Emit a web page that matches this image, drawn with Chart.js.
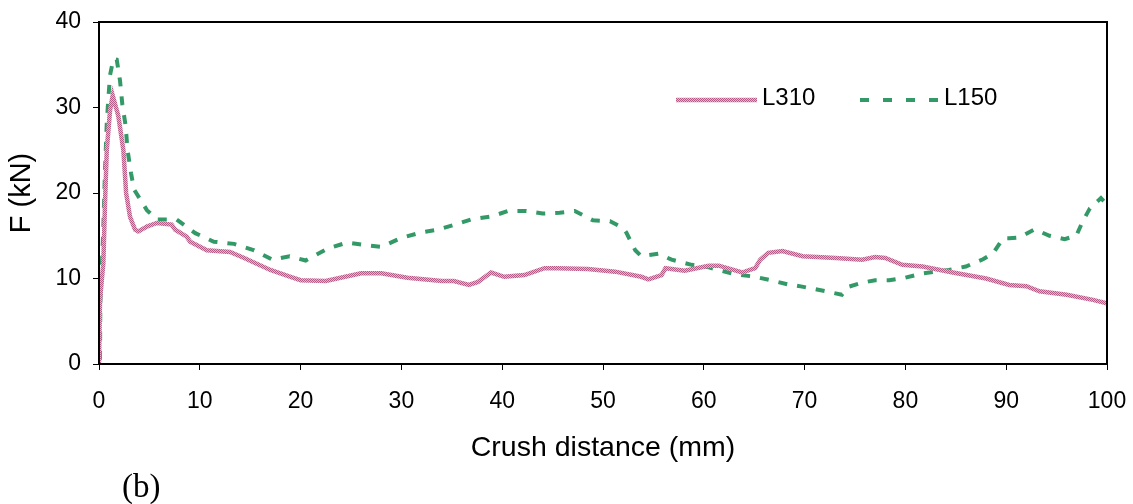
<!DOCTYPE html>
<html>
<head>
<meta charset="utf-8">
<script src="https://cdn.jsdelivr.net/npm/chart.js@4/dist/chart.umd.min.js"></script>
<style>
  html, body { margin: 0; padding: 0; background: #fff; }
  #wrap { width: 1133px; height: 504px; position: relative; }
</style>
</head>
<body>
<div id="wrap"><canvas id="c" width="1133" height="504"></canvas></div>
<script>
// Crush distance (mm) and force (kN) for each specimen
const l310X = [0, 0.1, 0.43, 0.6, 0.77, 1.1, 1.36, 1.92, 2.42, 2.69, 3.08, 3.58, 3.9, 4.8, 5.74, 7.2, 7.56, 8.7, 9.05, 10.7, 13.0, 14.4, 17.0, 18.0, 19.0, 20, 22.5, 26, 28, 30.6, 34, 35.2, 36.7, 37.6, 38.9, 40.2, 42.2, 44.2, 45.5, 48.5, 51.2, 53.8, 54.5, 55.8, 56.2, 58.1, 60.5, 61.5, 63.8, 65.1, 65.6, 66.4, 67.8, 69.8, 73.1, 75.7, 77.0, 78.0, 79.7, 81.7, 84.7, 88.0, 90.3, 92.0, 93.3, 96.0, 98.6, 100];
const l310F = [0, 7.5, 11.8, 18.9, 25, 29.7, 31.4, 29, 25, 20, 17.2, 15.7, 15.5, 16.1, 16.5, 16.3, 15.7, 14.9, 14.3, 13.3, 13.1, 12.4, 11.0, 10.6, 10.2, 9.8, 9.7, 10.6, 10.6, 10.1, 9.7, 9.7, 9.25, 9.6, 10.7, 10.2, 10.4, 11.2, 11.2, 11.1, 10.8, 10.2, 9.9, 10.4, 11.2, 10.9, 11.5, 11.5, 10.7, 11.2, 12.2, 13.0, 13.2, 12.6, 12.4, 12.2, 12.5, 12.4, 11.6, 11.4, 10.7, 10.0, 9.25, 9.1, 8.5, 8.1, 7.5, 7.1];

const l150X = [0.1, 0.13, 0.4, 0.6, 0.77, 0.93, 1.1, 1.43, 1.76, 2.09, 2.32, 2.65, 2.82, 3.18, 3.48, 4.75, 5.74, 7.7, 9.55, 11.4, 13.4, 15.4, 17.2, 18.9, 20.5, 22.7, 24.6, 26.5, 28.0, 30, 32, 33.6, 35.3, 36.9, 38.9, 40.6, 42.4, 44.0, 45.7, 47.2, 49.0, 50.7, 52.0, 52.3, 53.2, 53.8, 55.5, 56.8, 58.8, 60.5, 63.1, 65.1, 66.8, 68.4, 69.75, 72.1, 73.7, 74.4, 75.7, 77.0, 78.4, 80.0, 81.7, 84.3, 86.0, 87.7, 88.7, 89.7, 90.3, 91.3, 92.8, 94.3, 95.8, 96.95, 97.6, 98.3, 99.4, 99.9];
const l150F = [0.5, 7.1, 14.9, 22.7, 28.2, 31.1, 33.8, 35.7, 35.6, 33.1, 30.3, 27.8, 25.1, 22.3, 20.4, 18.0, 16.9, 16.9, 15.3, 14.3, 14.05, 13.3, 12.2, 12.6, 12.1, 13.5, 14.2, 13.9, 13.7, 14.75, 15.4, 15.7, 16.3, 16.9, 17.25, 17.9, 17.9, 17.6, 17.7, 17.9, 16.8, 16.7, 15.9, 15.4, 13.3, 12.6, 12.9, 12.2, 11.6, 11.3, 10.5, 10.2, 9.75, 9.3, 9.05, 8.5, 8.1, 9.05, 9.5, 9.8, 9.8, 10.1, 10.6, 11.0, 11.4, 12.25, 12.95, 14.7, 14.7, 14.8, 15.75, 15.0, 14.6, 15.0, 16.7, 18.2, 19.4, 18.8];

const xTicks = [0, 10, 20, 30, 40, 50, 60, 70, 80, 90, 100];
const yTicks = [0, 10, 20, 30, 40];
const seriesNames = ['L310', 'L150'];
const xTitle = 'Crush distance (mm)';
const yTitle = 'F (kN)';
const panelTag = '(b)';

// Dotted pink texture for the L310 curve
function pinkPattern() {
  const pc = document.createElement('canvas');
  pc.width = 2; pc.height = 2;
  const p = pc.getContext('2d');
  p.fillStyle = '#e6b3cb'; p.fillRect(0, 0, 2, 2);
  p.fillStyle = '#b45c88'; p.fillRect(0, 0, 1, 1); p.fillRect(1, 1, 1, 1);
  return document.getElementById('c').getContext('2d').createPattern(pc, 'repeat');
}

const toPoints = (xs, ys) => xs.map((x, i) => ({ x: x, y: ys[i] }));

const SANS = '"Liberation Sans", Arial, sans-serif';

// Frame around the plot, in-plot legend and panel tag
const decor = {
  id: 'decor',
  afterDatasetsDraw(chart) {
    const { ctx, chartArea: a } = chart;
    ctx.save();
    ctx.strokeStyle = '#000';
    ctx.lineWidth = 2;
    ctx.strokeRect(a.left, a.top, a.right - a.left, a.bottom - a.top);
    ctx.restore();
  },
  afterDraw(chart) {
    const { ctx } = chart;
    const items = [
      { ds: chart.data.datasets[0], x0: 676, x1: 757, tx: 762 },
      { ds: chart.data.datasets[1], x0: 860, x1: 938, tx: 944 }
    ];
    const ly = 100;
    ctx.save();
    items.forEach(it => {
      ctx.beginPath();
      ctx.strokeStyle = it.ds.borderColor;
      ctx.lineWidth = it.ds.borderWidth;
      ctx.setLineDash(it.ds.legendDash || []);
      ctx.moveTo(it.x0, ly);
      ctx.lineTo(it.x1, ly);
      ctx.stroke();
      ctx.setLineDash([]);
      ctx.fillStyle = '#000';
      ctx.font = '24px ' + SANS;
      ctx.textBaseline = 'middle';
      ctx.textAlign = 'left';
      ctx.fillText(it.ds.label, it.tx, 98);
    });
    ctx.font = '33px "Liberation Serif", "Times New Roman", serif';
    ctx.textBaseline = 'alphabetic';
    ctx.fillText(panelTag, 122, 497);
    ctx.restore();
  }
};

new Chart(document.getElementById('c'), {
  type: 'line',
  data: {
    datasets: [
      {
        label: seriesNames[0],
        data: toPoints(l310X, l310F),
        borderColor: pinkPattern(),
        borderWidth: 4.5,
        pointRadius: 0,
        tension: 0,
        fill: false
      },
      {
        label: seriesNames[1],
        data: toPoints(l150X, l150F),
        borderColor: '#339966',
        borderWidth: 4,
        borderDash: [9, 10],
        legendDash: [9, 14],
        pointRadius: 0,
        tension: 0,
        fill: false
      }
    ]
  },
  options: {
    responsive: false,
    animation: false,
    events: [],
    layout: { padding: { top: 22, right: 26, left: 0, bottom: 0 } },
    plugins: { legend: { display: false }, tooltip: { enabled: false } },
    scales: {
      x: {
        type: 'linear',
        min: 0, max: 100,
        afterFit(s) { s.height = 140; s.paddingLeft = 0; s.paddingRight = 0; },
        afterBuildTicks(s) { s.ticks = xTicks.map(v => ({ value: v })); },
        grid: { display: true, drawOnChartArea: false, drawTicks: true, tickLength: 6, color: '#000', lineWidth: 1 },
        border: { display: true, color: '#000', width: 2 },
        ticks: { color: '#000', font: { family: SANS, size: 23 }, padding: 18, maxRotation: 0 },
        title: { display: true, text: xTitle, color: '#000', font: { family: SANS, size: 28.5 }, padding: { top: 0, bottom: 39 } }
      },
      y: {
        type: 'linear',
        min: 0, max: 40,
        afterFit(s) { s.width = 99; s.paddingTop = 0; s.paddingBottom = 0; },
        afterBuildTicks(s) { s.ticks = yTicks.map(v => ({ value: v })); },
        grid: { display: true, drawOnChartArea: false, drawTicks: true, tickLength: 6, color: '#000', lineWidth: 1 },
        border: { display: true, color: '#000', width: 2 },
        ticks: { color: '#000', font: { family: SANS, size: 23 }, padding: 12 },
        title: { display: true, text: yTitle, color: '#000', font: { family: SANS, size: 29 }, padding: { top: 5, bottom: 0 } }
      }
    }
  },
  plugins: [decor]
});
</script>
</body>
</html>
